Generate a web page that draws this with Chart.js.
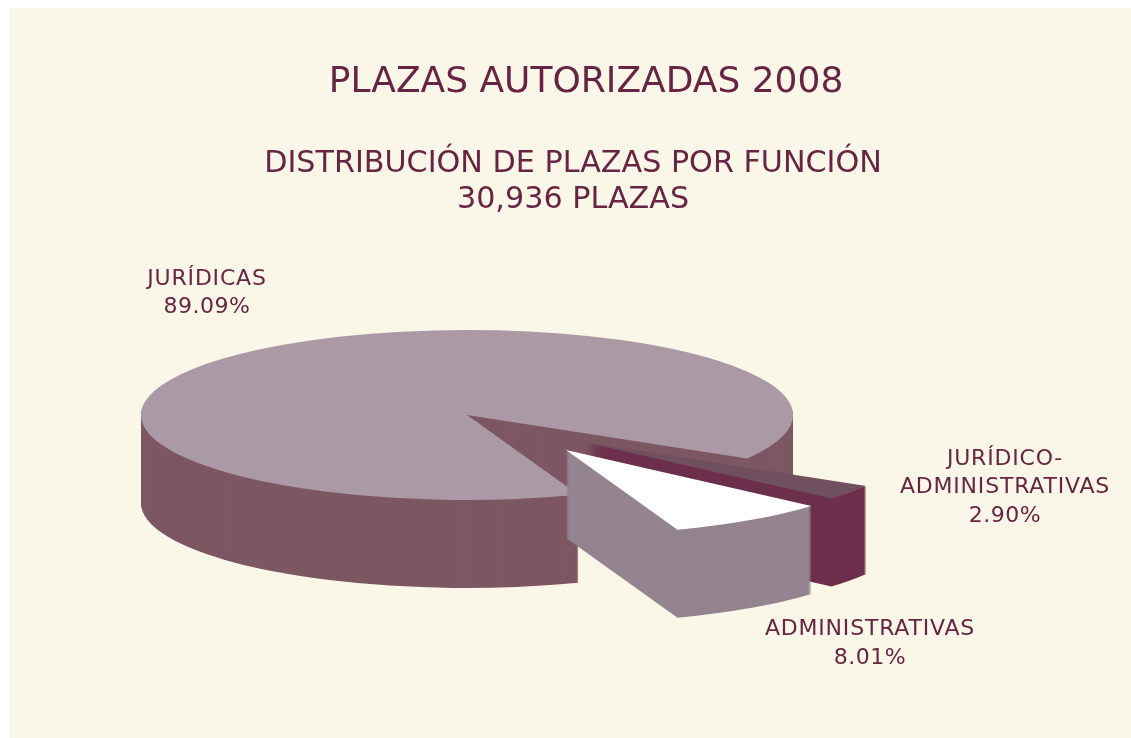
<!DOCTYPE html>
<html>
<head>
<meta charset="utf-8">
<title>Plazas autorizadas 2008</title>
<script src="https://cdn.jsdelivr.net/npm/chart.js@4"></script>
<style>
    html, body { margin: 0; padding: 0; background: #fff; overflow: hidden; }
    #panel { position: absolute; left: 9px; top: 8px; right: 0; bottom: 0; background: #fbf7e8; }
    #chart { position: absolute; left: 0; top: 0; }
</style>
</head>
<body>
<div id="panel"></div>
<canvas id="chart" width="1131" height="738"></canvas>
<script>
const categories = ['JURÍDICAS', 'JURÍDICO-ADMINISTRATIVAS', 'ADMINISTRATIVAS']
const shares = [89.09, 2.90, 8.01]
const shareLabels = ['89.09%', '2.90%', '8.01%']
const chartTitle = 'PLAZAS AUTORIZADAS 2008'
const chartSubtitle = ['DISTRIBUCIÓN DE PLAZAS POR FUNCIÓN', '30,936 PLAZAS']

const INK = '#682443'
const FONT = '"DejaVu Sans", sans-serif'

const pie3d = {
    id: 'pie3d',
    // draws the arcs of the library squashed and extruded, instead of the flat pie
    beforeDatasetsDraw(chart, args, opts) {
        const ctx = chart.ctx
        const arcs = chart.getDatasetMeta(0).data

        arcs.forEach((arc, i) => {
            const kx = opts.radiusX / arc.outerRadius
            const ky = opts.radiusY / arc.outerRadius
            const [dx, dy] = opts.shift[i]

            for (let z = opts.depth; z >= 0; z--) {
                const layer = Object.create(arc)
                layer.options = {
                    backgroundColor: z === 0 ? opts.top[i] : opts.side[i],
                    borderColor: 'transparent', borderWidth: 0, borderAlign: 'center',
                    borderJoinStyle: 'round', borderDash: [], borderDashOffset: 0,
                    offset: 0, spacing: 0, circular: true, borderRadius: 0
                }
                ctx.save()
                ctx.translate(opts.cx + dx, opts.cy + dy + z)
                ctx.scale(kx, ky)
                ctx.translate(-arc.x, -arc.y)
                arc.draw.call(layer, ctx)
                ctx.restore()
            }
        })
        return false
    }
}

const texts = {
    id: 'texts',
    afterDraw(chart) {
        const ctx = chart.ctx
        const put = (text, x, y, size, spacing = 0) => {
            ctx.font = `${size}px ${FONT}`
            ctx.letterSpacing = `${spacing}px`
            ctx.fillText(text, x, y)
        }

        ctx.save()
        ctx.fillStyle = INK
        ctx.textAlign = 'center'
        ctx.textBaseline = 'middle'

        put(chartTitle, 586, 83, 36)
        put(chartSubtitle[0], 573, 164, 30.2)
        put(chartSubtitle[1], 573, 200, 30.2)

        put(categories[0], 207, 279, 22, 0.8)
        put(shareLabels[0], 207, 307, 22, 0.5)

        const parts = categories[1].split('-')
        put(parts[0] + '-', 1005, 459, 22, 0.8)
        put(parts[1], 1005, 487, 22, 0.8)
        put(shareLabels[1], 1005, 516, 22, 0.5)

        put(categories[2], 870, 629, 22, 0.8)
        put(shareLabels[2], 870, 658, 22, 0.5)
        ctx.restore()
    }
}

new Chart(document.getElementById('chart').getContext('2d'), {
    type: 'pie',
    data: {
        labels: categories,
        datasets: [{ data: shares, borderWidth: 0 }]
    },
    options: {
        responsive: false,
        animation: false,
        rotation: 160,
        plugins: {
            legend: { display: false },
            tooltip: { enabled: false },
            pie3d: {
                cx: 467, cy: 415, radiusX: 326, radiusY: 85, depth: 88,
                shift: [[0, 0], [119, 27.5], [99, 35]],
                top: ['#ab9aa5', '#70505f', '#ffffff'],
                side: ['#7d5763', '#6d304c', '#94848f']
            }
        }
    },
    plugins: [pie3d, texts]
})
</script>
</body>
</html>
